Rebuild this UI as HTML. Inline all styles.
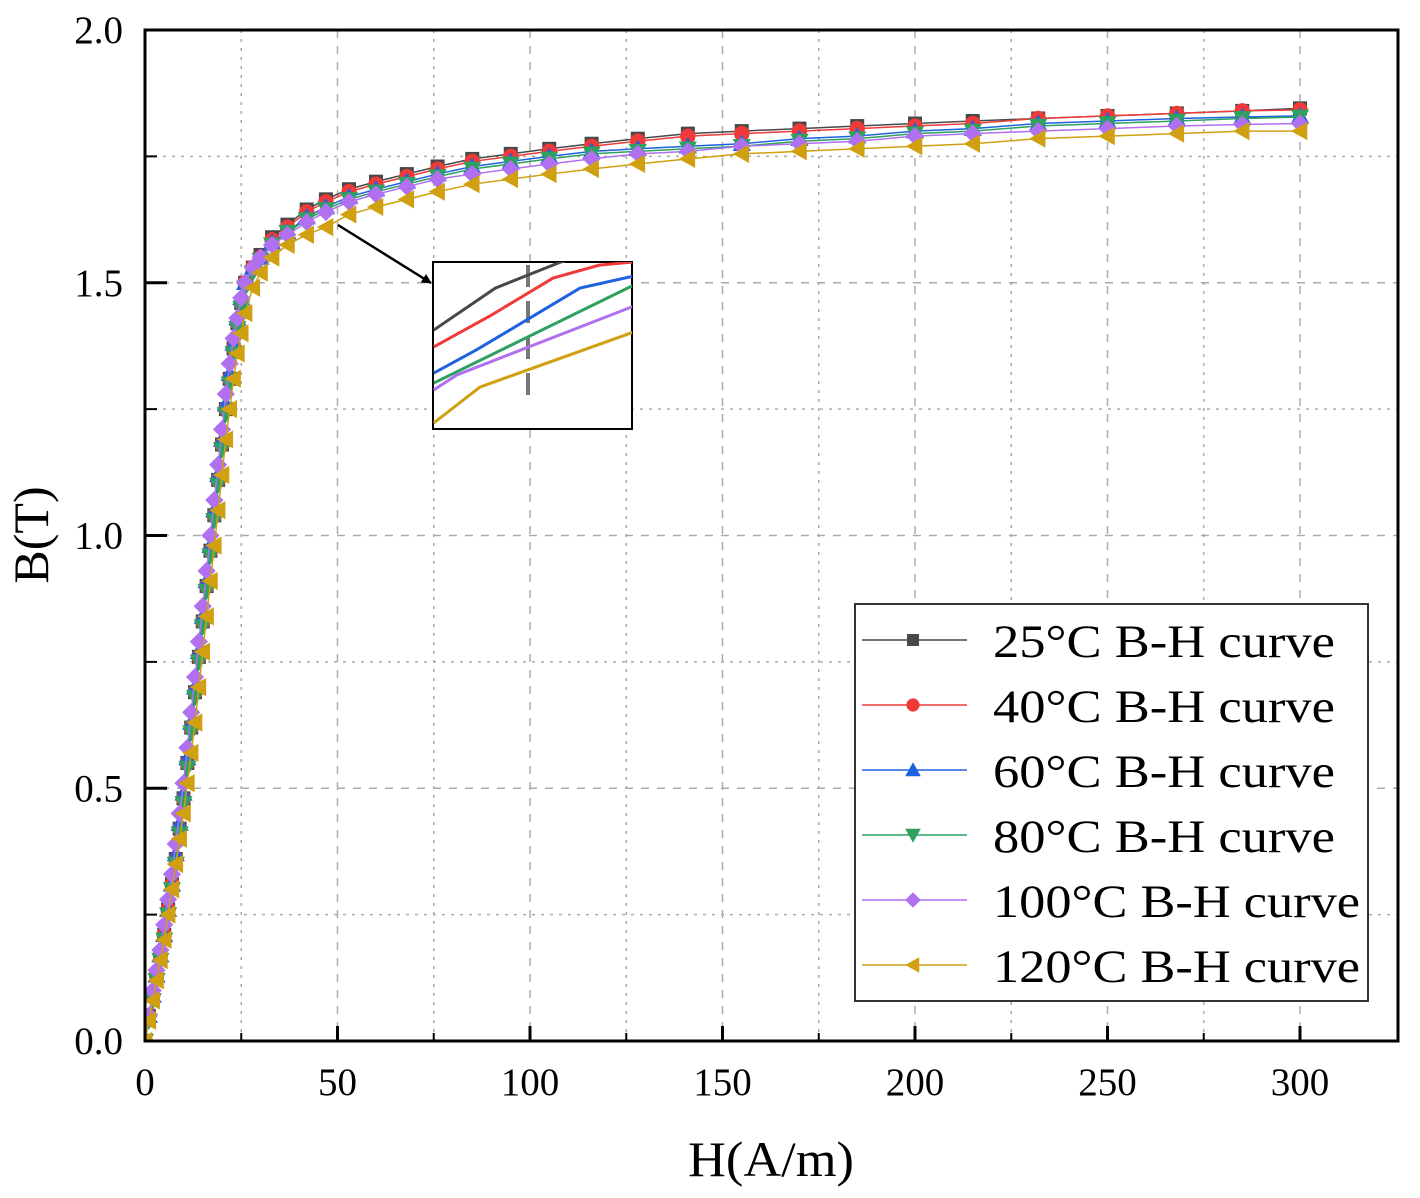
<!DOCTYPE html>
<html><head><meta charset="utf-8"><style>
html,body{margin:0;padding:0;background:#fff;}
svg{display:block;font-family:"Liberation Serif",serif;}
</style></head><body>
<svg id="chart" width="1420" height="1198" viewBox="0 0 1420 1198" xmlns="http://www.w3.org/2000/svg">
<defs><clipPath id="plotclip"><rect x="145" y="30" width="1253" height="1011"/></clipPath>
<clipPath id="insetclip"><rect x="433" y="262" width="199" height="167"/></clipPath>
<marker id="arrowhead" markerWidth="10" markerHeight="10" refX="9" refY="5" orient="auto" markerUnits="userSpaceOnUse"><path d="M0,0 L10,5 L0,10 z" fill="#000"/></marker></defs>
<g id="grid"></g>
<g id="series" clip-path="url(#plotclip)"></g>
<rect x="145" y="30" width="1253" height="1011" fill="none" stroke="#000" stroke-width="3"/>
<g id="ticks"></g>
<text x="771" y="1176" font-size="50" text-anchor="middle" textLength="166" lengthAdjust="spacingAndGlyphs">H(A/m)</text>
<text x="48" y="535" font-size="50" text-anchor="middle" transform="rotate(-90 48 535)">B(T)</text>
<line x1="338" y1="225" x2="431" y2="283" stroke="#000" stroke-width="2.5" marker-end="url(#arrowhead)"/>
<g id="inset">
<rect x="433" y="262" width="199" height="167" fill="#fff" stroke="#000" stroke-width="2"/>
<line x1="528" y1="265" x2="528" y2="405" stroke="#777" stroke-width="4" stroke-dasharray="22,14"/>
<g id="insetlines" clip-path="url(#insetclip)"></g>
</g>
<g id="legend">
<rect x="855" y="604" width="513" height="397" fill="#fff" stroke="#333" stroke-width="2"/>
</g>
</svg>
<script>
const NS="http://www.w3.org/2000/svg";
const xTicks=[0,50,100,150,200,250,300];
const yTicks=[0.0,0.5,1.0,1.5,2.0];
const yTickLabels=["0.0","0.5","1.0","1.5","2.0"];
const H=[0,1,2,3,4,5,6,7,8,9,10,11,12,13,14,15,16,17,18,19,20,21,22,23,24,25,26,28,30,33,37,42,47,53,60,68,76,85,95,105,116,128,141,155,170,185,200,215,232,250,268,285,300];
const B25=[0,0.05,0.09,0.13,0.17,0.21,0.26,0.31,0.36,0.42,0.48,0.55,0.62,0.69,0.76,0.83,0.90,0.97,1.04,1.11,1.18,1.25,1.31,1.37,1.42,1.46,1.50,1.53,1.555,1.59,1.615,1.645,1.665,1.685,1.70,1.715,1.73,1.745,1.755,1.765,1.775,1.785,1.795,1.80,1.805,1.81,1.815,1.82,1.825,1.83,1.835,1.84,1.845];
const B40=[0,0.05,0.09,0.13,0.17,0.21,0.26,0.31,0.36,0.42,0.48,0.55,0.62,0.69,0.76,0.83,0.90,0.97,1.04,1.11,1.18,1.25,1.31,1.37,1.42,1.46,1.50,1.53,1.55,1.585,1.61,1.64,1.66,1.68,1.695,1.71,1.725,1.74,1.75,1.76,1.77,1.78,1.79,1.795,1.80,1.805,1.81,1.815,1.825,1.83,1.835,1.84,1.842];
const B60=[0,0.05,0.09,0.13,0.17,0.21,0.26,0.31,0.37,0.43,0.49,0.56,0.63,0.70,0.77,0.84,0.91,0.98,1.05,1.12,1.19,1.26,1.32,1.38,1.43,1.47,1.50,1.53,1.55,1.58,1.60,1.63,1.65,1.67,1.685,1.70,1.715,1.73,1.74,1.75,1.76,1.765,1.77,1.775,1.785,1.79,1.80,1.805,1.815,1.82,1.825,1.828,1.83];
const B80=[0,0.04,0.08,0.12,0.16,0.20,0.25,0.30,0.35,0.41,0.47,0.54,0.61,0.68,0.75,0.82,0.89,0.96,1.03,1.10,1.17,1.24,1.30,1.36,1.41,1.45,1.49,1.52,1.545,1.575,1.60,1.625,1.645,1.665,1.68,1.695,1.71,1.725,1.735,1.745,1.755,1.76,1.765,1.77,1.78,1.785,1.795,1.80,1.81,1.815,1.82,1.825,1.828];
const B100=[0,0.05,0.10,0.14,0.18,0.23,0.28,0.33,0.39,0.45,0.51,0.58,0.65,0.72,0.79,0.86,0.93,1.00,1.07,1.14,1.21,1.28,1.34,1.39,1.43,1.47,1.50,1.53,1.55,1.575,1.595,1.62,1.64,1.66,1.675,1.69,1.705,1.715,1.725,1.735,1.745,1.755,1.76,1.77,1.775,1.78,1.79,1.795,1.80,1.805,1.81,1.813,1.815];
const B120=[0,0.04,0.08,0.12,0.16,0.20,0.25,0.30,0.35,0.40,0.45,0.51,0.57,0.63,0.70,0.77,0.84,0.91,0.98,1.05,1.12,1.19,1.25,1.31,1.36,1.40,1.44,1.49,1.52,1.55,1.575,1.595,1.61,1.635,1.65,1.665,1.68,1.695,1.705,1.715,1.725,1.735,1.745,1.755,1.76,1.765,1.77,1.775,1.785,1.79,1.795,1.80,1.80];
const seriesNames=["25°C B-H curve","40°C B-H curve","60°C B-H curve","80°C B-H curve","100°C B-H curve","120°C B-H curve"];
const seriesData=[B25,B40,B60,B80,B100,B120];
const colors=["#484848","#f03a3a","#1f62e0","#2ea060","#b070f0","#d0a010"];
const shapes=["square","circle","up","down","diamond","left"];
const insetH=[[75,91,108,130],[75,90,106,118,127],[75,86,113,127],[75,127],[75,81,127],[75,87,127]];
const insetB=[[1.7474,1.7675,1.78,1.79],[1.7393,1.7546,1.7723,1.7785,1.78],[1.7268,1.7378,1.7675,1.7733],[1.722,1.769],[1.7187,1.7259,1.7589],[1.7029,1.7201,1.7465]];
const xS=h=>145+h*(1155/300);
const yS=b=>1041-b*(1011/2);
const ixS=h=>xS(h);
const iyS=b=>429-(b-1.70)/0.08*167;
function el(tag,attrs,parent){const e=document.createElementNS(NS,tag);for(const k in attrs)e.setAttribute(k,attrs[k]);parent.appendChild(e);return e;}
const grid=document.getElementById('grid'),ticks=document.getElementById('ticks');
for(let h=25;h<325;h+=25){const l=el('line',{x1:xS(h),x2:xS(h),y1:30,y2:1041,stroke:'#aaa','stroke-width':1.5,'stroke-dasharray':h%50?'3,6':'8,8'},grid);

}
for(let b=0.25;b<2;b+=0.25){const l=el('line',{x1:145,x2:1398,y1:yS(b),y2:yS(b),stroke:'#aaa','stroke-width':1.5,'stroke-dasharray':Math.abs(b*2-Math.round(b*2))>0.01?'3,6':'8,8'},grid);

}
xTicks.forEach(h=>{el('line',{x1:xS(h),x2:xS(h),y1:1041,y2:1026,stroke:'#000','stroke-width':3},ticks);
const t=el('text',{x:xS(h),y:1095,'font-size':39,'text-anchor':'middle'},ticks);t.textContent=h;

});
for(let h=25;h<325;h+=50)el('line',{x1:xS(h),x2:xS(h),y1:1041,y2:1033,stroke:'#000','stroke-width':2},ticks);
yTicks.forEach((b,i)=>{el('line',{x1:145,x2:167,y1:yS(b),y2:yS(b),stroke:'#000','stroke-width':3},ticks);
const t=el('text',{x:123,y:yS(b)+13,'font-size':39,'text-anchor':'end'},ticks);t.textContent=yTickLabels[i];

});
for(let b=0.25;b<2;b+=0.5)el('line',{x1:145,x2:157,y1:yS(b),y2:yS(b),stroke:'#000','stroke-width':2},ticks);
function marker(shape,x,y,c,parent,s){let e;
if(shape==='square')e=el('rect',{x:x-s,y:y-s,width:2*s,height:2*s,fill:c},parent);
else if(shape==='circle')e=el('circle',{cx:x,cy:y,r:s*1.1,fill:c},parent);
else{let p;const r=s*1.3;
if(shape==='up')p=[[x,y-r],[x+r,y+r*0.8],[x-r,y+r*0.8]];
else if(shape==='down')p=[[x,y+r],[x+r,y-r*0.8],[x-r,y-r*0.8]];
else if(shape==='left')p=[[x-r,y],[x+r*0.8,y-r],[x+r*0.8,y+r]];
else p=[[x,y-r],[x+r,y],[x,y+r],[x-r,y]];
e=el('polygon',{points:p.map(q=>q.join(',')).join(' '),fill:c},parent);}
return e;}
const sg=document.getElementById('series');
seriesData.forEach((B,i)=>{const g=el('g',{},sg);


el('polyline',{points:H.map((h,j)=>xS(h)+','+yS(B[j])).join(' '),fill:'none',stroke:colors[i],'stroke-width':1.5},g);
H.forEach((h,j)=>{const m=marker(shapes[i],xS(h),yS(B[j]),colors[i],g,7);

});});
const il=document.getElementById('insetlines');
insetH.forEach((hs,i)=>{const p=el('polyline',{points:hs.map((h,j)=>ixS(h)+','+iyS(insetB[i][j])).join(' '),fill:'none',stroke:colors[i],'stroke-width':3},il);

});
const lg=document.getElementById('legend');
seriesNames.forEach((n,i)=>{const y=640+i*65;const g=el('g',{},lg);


el('line',{x1:862,x2:967,y1:y,y2:y,stroke:colors[i],'stroke-width':1.5},g);
marker(shapes[i],913,y,colors[i],g,6);
const t=el('text',{x:993,y:y+17,'font-size':47,textLength:n.startsWith('1')?367:342,lengthAdjust:'spacingAndGlyphs'},g);t.textContent=n;});
</script>
</body></html>
